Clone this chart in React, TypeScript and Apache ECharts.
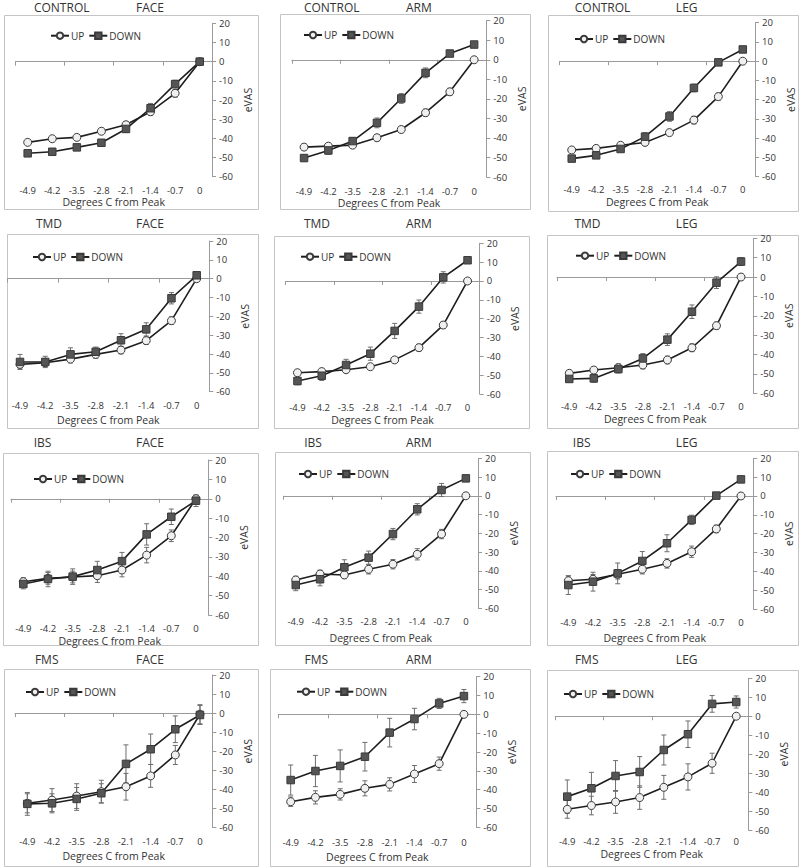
import React, { useEffect, useRef } from "react";
import * as echarts from "echarts";

const categories = ["-4.9", "-4.2", "-3.5", "-2.8", "-2.1", "-1.4", "-0.7", "0"];
const yTicks = { min: -60, max: 20, interval: 10 };
const groups = ["CONTROL", "TMD", "IBS", "FMS"];
const sites = ["FACE", "ARM", "LEG"];

// CONTROL
const controlFaceUp = [-42.1, -40.2, -39.5, -36.3, -32.9, -26.1, -16.5, 0];
const controlFaceUpErr = [1.2, 1.2, 1.2, 1.5, 1.5, 2, 2, 0];
const controlFaceDown = [-47.8, -47, -44.7, -42.3, -35.1, -24.3, -11.7, 0];
const controlFaceDownErr = [1.2, 1.2, 1.5, 1.5, 1.8, 2.5, 2, 0];
const controlArmUp = [-44.7, -44.2, -43.7, -39.9, -35.7, -27.1, -16.4, 0];
const controlArmUpErr = [1.2, 1.5, 1.5, 1.5, 1.5, 1.8, 1.8, 0];
const controlArmDown = [-50.3, -46.4, -41.6, -32.3, -19.8, -6.7, 3.2, 7.8];
const controlArmDownErr = [1.5, 2, 1.8, 2.5, 2.5, 2.5, 1.5, 1.2];
const controlLegUp = [-46.1, -45.3, -43.7, -42.2, -37.1, -30.6, -18.4, 0];
const controlLegUpErr = [1.2, 1.2, 1.5, 1.5, 1.5, 2, 1.8, 0];
const controlLegDown = [-50.6, -48.9, -45.6, -39.2, -28.7, -13.9, -0.6, 6.1];
const controlLegDownErr = [1.2, 1.5, 1.5, 2, 2.5, 2, 1.5, 1.2];
// TMD
const tmdFaceUp = [-45.5, -44.6, -42.7, -40.2, -37.9, -32.9, -22.3, 0];
const tmdFaceUpErr = [2, 2, 2, 2, 2, 2, 2, 0];
const tmdFaceDown = [-44.2, -44.2, -40.2, -38.8, -32.7, -26.9, -10.4, 1.8];
const tmdFaceDownErr = [4, 3, 3.5, 2.5, 3.5, 3.5, 3, 1.5];
const tmdArmUp = [-48.7, -48.1, -47.1, -45.5, -41.9, -35.4, -23.4, 0];
const tmdArmUpErr = [1.5, 1.5, 1.5, 1.5, 1.5, 1.8, 1.8, 0];
const tmdArmDown = [-53.1, -50.3, -44.6, -38.6, -26.5, -13.6, 1.9, 11];
const tmdArmDownErr = [2, 2.5, 3, 3.5, 4, 3.5, 3, 1.5];
const tmdLegUp = [-49.7, -48, -46.8, -45.4, -42.8, -36.5, -25.1, 0];
const tmdLegUpErr = [1.5, 1.5, 2, 2, 2, 2, 1.8, 0];
const tmdLegDown = [-52.6, -52.3, -47.5, -42, -32.3, -17.9, -2.9, 8];
const tmdLegDownErr = [1.5, 2, 2, 2.5, 3, 3.5, 3, 2];
// IBS
const ibsFaceUp = [-42.8, -41.1, -40.4, -39.7, -36.8, -29.1, -19.1, 0];
const ibsFaceUpErr = [2, 3, 3, 3.5, 3.5, 4, 3, 0];
const ibsFaceDown = [-44, -41.4, -40.2, -36.8, -32.2, -18.4, -9.3, -1];
const ibsFaceDownErr = [2.5, 4, 4, 4.5, 4.5, 5.5, 4, 3];
const ibsArmUp = [-44.9, -41.7, -42.2, -39.2, -36.5, -31.2, -20.4, 0];
const ibsArmUpErr = [2, 2, 2, 2.5, 2.5, 3, 2.5, 0];
const ibsArmDown = [-47.6, -44.5, -38.1, -33, -20.4, -7.2, 3.1, 9.3];
const ibsArmDownErr = [3, 3.5, 4, 3.5, 3, 3, 3.5, 1.5];
const ibsLegUp = [-45, -44.2, -41.6, -38.9, -35.8, -29.6, -17.5, 0];
const ibsLegUpErr = [2.5, 2.5, 2.5, 2.5, 2.5, 3, 2, 0];
const ibsLegDown = [-47.3, -45.5, -41.1, -34.5, -25.1, -12.7, 0.2, 8.8];
const ibsLegDownErr = [5, 5, 5.5, 5, 4.5, 2.5, 1.5, 1.5];
// FMS
const fmsFaceUp = [-47.4, -45.7, -43.6, -41.3, -38.7, -33, -22, -0.6];
const fmsFaceUpErr = [5, 6, 6.5, 6, 7, 6, 5, 5];
const fmsFaceDown = [-47.7, -47.4, -45.1, -42.1, -26.7, -19, -8.5, -1];
const fmsFaceDownErr = [6, 5, 6, 5, 10, 8, 7, 5];
const fmsArmUp = [-46.4, -44.1, -42.5, -39.3, -37.2, -31.7, -26.2, 0];
const fmsArmUpErr = [2.5, 3.5, 3, 4, 3.5, 4.5, 3.5, 0];
const fmsArmDown = [-34.9, -30.1, -27.4, -22.5, -9.7, -2.5, 5.8, 9.7];
const fmsArmDownErr = [8, 8.3, 8.5, 7.6, 7.6, 5.7, 2.7, 3.5];
const fmsLegUp = [-49.1, -47.1, -45.2, -42.9, -37.5, -32, -24.8, 0];
const fmsLegUpErr = [4.7, 4.9, 6, 6.2, 6.3, 6.9, 5.3, 0];
const fmsLegDown = [-42.4, -38, -31.5, -29.4, -17.8, -9.5, 6.5, 7.5];
const fmsLegDownErr = [8.8, 8.4, 8.1, 8.1, 7.9, 7, 4.4, 3.2];

const panelData = [
  [controlFaceUp, controlFaceUpErr, controlFaceDown, controlFaceDownErr],
  [controlArmUp, controlArmUpErr, controlArmDown, controlArmDownErr],
  [controlLegUp, controlLegUpErr, controlLegDown, controlLegDownErr],
  [tmdFaceUp, tmdFaceUpErr, tmdFaceDown, tmdFaceDownErr],
  [tmdArmUp, tmdArmUpErr, tmdArmDown, tmdArmDownErr],
  [tmdLegUp, tmdLegUpErr, tmdLegDown, tmdLegDownErr],
  [ibsFaceUp, ibsFaceUpErr, ibsFaceDown, ibsFaceDownErr],
  [ibsArmUp, ibsArmUpErr, ibsArmDown, ibsArmDownErr],
  [ibsLegUp, ibsLegUpErr, ibsLegDown, ibsLegDownErr],
  [fmsFaceUp, fmsFaceUpErr, fmsFaceDown, fmsFaceDownErr],
  [fmsArmUp, fmsArmUpErr, fmsArmDown, fmsArmDownErr],
  [fmsLegUp, fmsLegUpErr, fmsLegDown, fmsLegDownErr],
];

// layout: grid [left, top, width, height], box [x,y,w,h], title y, group x, site x, legend [x,y], label margin, name gap
const layout = [
  { g: [15.4, 23.3, 196.6, 153.4], box: [4, 15, 254, 194], ty: 7, gx: 61.7, sx: 150, lg: [50, 36.7], lm: 8.5, ng: 19.5 },
  { g: [291.9, 20.7, 194.4, 156.3], box: [280, 14, 250, 195], ty: 7, gx: 331.7, sx: 418.8, lg: [303, 36], lm: 9, ng: 20 },
  { g: [559.5, 22.7, 195.5, 154], box: [548, 15, 250, 196], ty: 7, gx: 602.5, sx: 686.7, lg: [574, 40], lm: 8, ng: 20 },
  { g: [7.4, 241, 201.9, 150.7], box: [7, 234, 251, 194], ty: 223, gx: 49, sx: 150, lg: [32, 258], lm: 9, ng: 22.5 },
  { g: [285.3, 243.3, 194.4, 150.7], box: [274, 236, 255, 192], ty: 223, gx: 317, sx: 418.8, lg: [300, 257.7], lm: 8.5, ng: 20 },
  { g: [557, 238.3, 196.3, 155], box: [547, 235, 251, 193], ty: 223, gx: 587.5, sx: 686.7, lg: [575, 256.7], lm: 8.5, ng: 20.5 },
  { g: [11, 460, 197.3, 155], box: [3, 453, 255, 192], ty: 442, gx: 42.5, sx: 150, lg: [33, 480], lm: 8, ng: 20 },
  { g: [283.6, 458.3, 194.4, 150], box: [275, 452, 255, 193], ty: 442, gx: 313, sx: 418.8, lg: [298, 475], lm: 8.5, ng: 24 },
  { g: [556, 458.3, 197.3, 150.7], box: [547, 451, 251, 194], ty: 442, gx: 581.7, sx: 686.7, lg: [570, 475], lm: 8.5, ng: 23 },
  { g: [15, 675, 197.3, 152.3], box: [4, 669, 254, 197], ty: 659, gx: 46.7, sx: 150, lg: [25, 693], lm: 9.5, ng: 23 },
  { g: [278.3, 676.7, 198, 150.6], box: [270, 669, 260, 197], ty: 659, gx: 316.3, sx: 418.8, lg: [296, 692.7], lm: 10, ng: 24.5 },
  { g: [555.2, 678.3, 193.1, 151.7], box: [547, 670, 251, 196], ty: 659, gx: 586.7, sx: 686.7, lg: [563, 695], lm: 6.5, ng: 17.5 },
];

const FONT = "Open Sans";
const TEXT = "#333";
const AXIS = "#9a9a9a";

function errorBarRender(params: any, api: any) {
  const i = api.value(0);
  const v = api.value(1);
  const e = api.value(2);
  if (!e) return null;
  const p1 = api.coord([i, v + e]);
  const p2 = api.coord([i, v - e]);
  const cap = 2.5;
  const style = { stroke: "#6e6e6e", lineWidth: 1 };
  return {
    type: "group",
    children: [
      { type: "line", shape: { x1: p1[0], y1: p1[1], x2: p2[0], y2: p2[1] }, style },
      { type: "line", shape: { x1: p1[0] - cap, y1: p1[1], x2: p1[0] + cap, y2: p1[1] }, style },
      { type: "line", shape: { x1: p2[0] - cap, y1: p2[1], x2: p2[0] + cap, y2: p2[1] }, style },
    ],
  };
}

function buildOption() {
  const grid: any[] = [];
  const xAxis: any[] = [];
  const yAxis: any[] = [];
  const series: any[] = [];
  const legend: any[] = [];
  const graphic: any[] = [];

  layout.forEach((L, k) => {
    const [up, upErr, down, downErr] = panelData[k];
    const nameGap = Math.max(L.ng, L.lm + 11.5);
    grid.push({ left: L.g[0], top: L.g[1], width: L.g[2], height: L.g[3], containLabel: false });
    xAxis.push({
      type: "category",
      gridIndex: k,
      data: categories,
      position: "top",
      boundaryGap: true,
      axisLine: { onZero: true, lineStyle: { color: AXIS, width: 1 } },
      axisTick: { show: true, inside: true, length: 4, lineStyle: { color: AXIS } },
      axisLabel: { show: false },
      splitLine: { show: false },
    });
    xAxis.push({
      type: "category",
      gridIndex: k,
      data: categories,
      position: "bottom",
      boundaryGap: true,
      axisLine: { show: false, onZero: false },
      axisTick: { show: false },
      axisLabel: { show: true, margin: L.lm, fontSize: 9.5, color: TEXT, fontFamily: FONT, interval: 0 },
      splitLine: { show: false },
      name: "Degrees C from Peak",
      nameLocation: "middle",
      nameGap,
      nameTextStyle: { fontSize: 10.5, color: TEXT, fontFamily: FONT },
    });
    yAxis.push({
      type: "value",
      gridIndex: k,
      position: "right",
      min: yTicks.min,
      max: yTicks.max,
      interval: yTicks.interval,
      axisLine: { show: true, onZero: false, lineStyle: { color: AXIS, width: 1 } },
      axisTick: { show: true, length: 4, lineStyle: { color: AXIS } },
      axisLabel: { margin: 7, fontSize: 9.5, color: TEXT, fontFamily: FONT },
      splitLine: { show: false },
      name: "eVAS",
      nameLocation: "middle",
      nameRotate: 90,
      nameGap: 30,
      nameTextStyle: { fontSize: 10.5, color: TEXT, fontFamily: FONT },
    });
    const xi = 2 * k;
    series.push({
      type: "custom",
      name: "errUP" + k,
      xAxisIndex: xi,
      yAxisIndex: k,
      renderItem: errorBarRender,
      encode: { x: 0, y: 1 },
      data: up.map((v, i) => [i, v, upErr[i]]),
      z: 1,
      silent: true,
    });
    series.push({
      type: "custom",
      name: "errDOWN" + k,
      xAxisIndex: xi,
      yAxisIndex: k,
      renderItem: errorBarRender,
      encode: { x: 0, y: 1 },
      data: down.map((v, i) => [i, v, downErr[i]]),
      z: 1,
      silent: true,
    });
    series.push({
      type: "line",
      name: "UP",
      xAxisIndex: xi,
      yAxisIndex: k,
      data: up,
      symbol: "circle",
      symbolSize: 8,
      showAllSymbol: true,
      lineStyle: { color: "#1e1e1e", width: 1.6 },
      itemStyle: { color: "#f0f0f0", borderColor: "#3a3a3a", borderWidth: 1 },
      z: 3,
    });
    series.push({
      type: "line",
      name: "DOWN",
      xAxisIndex: xi,
      yAxisIndex: k,
      data: down,
      symbol: "rect",
      symbolSize: 7.5,
      showAllSymbol: true,
      lineStyle: { color: "#1e1e1e", width: 1.6 },
      itemStyle: { color: "#555555", borderColor: "#3a3a3a", borderWidth: 1 },
      z: 4,
    });
    legend.push({
      data: ["UP", "DOWN"],
      left: L.lg[0],
      top: L.lg[1] - 6,
      itemWidth: 18,
      itemHeight: 8,
      itemGap: 4,
      padding: 0,
      selectedMode: false,
      textStyle: { fontSize: 10, color: TEXT, fontFamily: FONT, padding: [0, 0, 0, -3] },
    });
    graphic.push({
      type: "rect",
      shape: { x: L.box[0] + 0.5, y: L.box[1] + 0.5, width: L.box[2], height: L.box[3] },
      style: { fill: "none", stroke: "#c4c4c4", lineWidth: 1 },
      silent: true,
      z: -1,
    });
    const row = Math.floor(k / 3);
    const col = k % 3;
    graphic.push({
      type: "text",
      x: L.gx,
      y: L.ty,
      style: { text: groups[row], fontSize: 12, fill: TEXT, fontFamily: FONT, align: "center", verticalAlign: "middle" },
    });
    graphic.push({
      type: "text",
      x: L.sx,
      y: L.ty,
      style: { text: sites[col], fontSize: 12, fill: TEXT, fontFamily: FONT, align: "center", verticalAlign: "middle" },
    });
  });

  return {
    animation: false,
    backgroundColor: "#ffffff",
    textStyle: { fontFamily: FONT },
    grid,
    xAxis,
    yAxis,
    series,
    legend,
    graphic,
  };
}

export default function App() {
  const ref = useRef<HTMLDivElement>(null);
  useEffect(() => {
    document.body.style.margin = "0";
    const chart = echarts.init(ref.current!, undefined, { renderer: "svg" });
    chart.setOption(buildOption() as any);
    return () => chart.dispose();
  }, []);
  return <div ref={ref} style={{ width: 800, height: 867 }} />;
}
